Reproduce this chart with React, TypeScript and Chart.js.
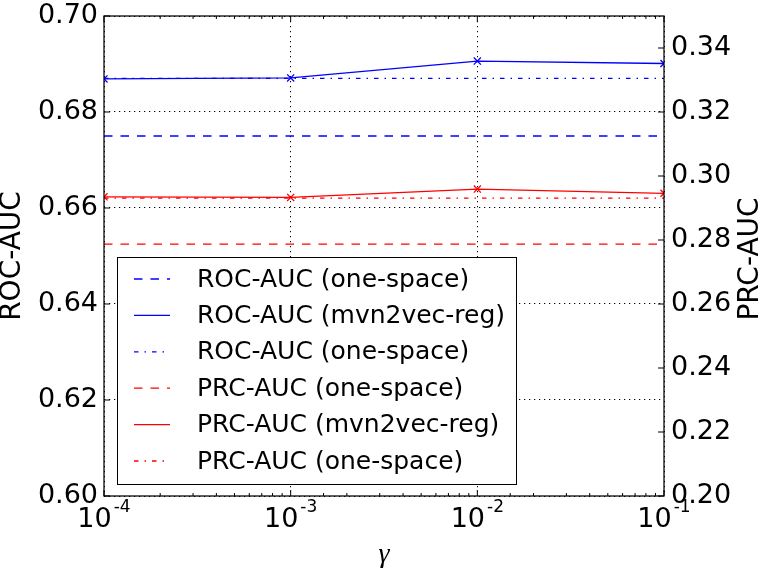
import React, { useEffect, useRef } from 'react';
import { Chart, registerables } from 'chart.js';

Chart.register(...registerables);

// ---- data ----
const gammas = [1e-4, 1e-3, 1e-2, 1e-1];
const gammaExponents = ['-4', '-3', '-2', '-1'];

const rocOneSpaceDashed = [0.675, 0.675, 0.675, 0.675];
const rocMvn2vecReg = [0.6869, 0.6871, 0.6906, 0.6901];
const rocOneSpaceDashDot = [0.687, 0.687, 0.687, 0.687];
const prcOneSpaceDashed = [0.2787, 0.2787, 0.2787, 0.2787];
const prcMvn2vecReg = [0.2935, 0.2933, 0.2959, 0.2946];
const prcOneSpaceDashDot = [0.2931, 0.2931, 0.2931, 0.2931];

const seriesLabels = [
  'ROC-AUC (one-space)',
  'ROC-AUC (mvn2vec-reg)',
  'ROC-AUC (one-space)',
  'PRC-AUC (one-space)',
  'PRC-AUC (mvn2vec-reg)',
  'PRC-AUC (one-space)',
];

const rocTicks = [0.6, 0.62, 0.64, 0.66, 0.68, 0.7];
const rocTickLabels = ['0.60', '0.62', '0.64', '0.66', '0.68', '0.70'];
const prcTicks = [0.2, 0.22, 0.24, 0.26, 0.28, 0.3, 0.32, 0.34];
const prcTickLabels = ['0.20', '0.22', '0.24', '0.26', '0.28', '0.30', '0.32', '0.34'];

const leftTitle = 'ROC-AUC';
const rightTitle = 'PRC-AUC';
const xTitle = 'γ';

// ---- styles ----
const SANS = '"DejaVu Sans", sans-serif';
const DASHED = [8.5, 8];
const DASHDOT = [4.5, 6, 1.5, 6];
const DOTTED = [1.25, 3.75];
const BLUE = '#0000ff';
const RED = '#ff0000';

const isMajor = (v: number) => {
  const l = Math.log10(v);
  return Math.abs(l - Math.round(l)) < 1e-6;
};

const pts = (arr: number[]) => gammas.map((g, i) => ({ x: g, y: arr[i] }));

const overlayPlugin = {
  id: 'overlay',
  afterDraw(chart: any) {
    const { ctx, chartArea: ca, scales } = chart;
    const xs = scales.x;
    const yl = scales.yRoc;
    const yr = scales.yPrc;
    ctx.save();

    // legend
    const bx = ca.left + 13;
    const by = ca.top + 241;
    const bw = 399;
    const bh = 227;
    ctx.fillStyle = '#fff';
    ctx.fillRect(bx, by, bw, bh);
    ctx.setLineDash([]);
    ctx.strokeStyle = '#000';
    ctx.lineWidth = 1;
    ctx.strokeRect(bx + 0.5, by + 0.5, bw, bh);
    chart.data.datasets.forEach((ds: any, i: number) => {
      const ry = by + 22 + i * 36.4;
      ctx.save();
      ctx.strokeStyle = ds.borderColor;
      ctx.lineWidth = ds.borderWidth;
      ctx.setLineDash(ds.borderDash || []);
      ctx.beginPath();
      ctx.moveTo(bx + 17, ry);
      ctx.lineTo(bx + 53, ry);
      ctx.stroke();
      ctx.restore();
      ctx.fillStyle = '#000';
      ctx.font = `25px ${SANS}`;
      ctx.textAlign = 'left';
      ctx.textBaseline = 'middle';
      ctx.fillText(ds.label, bx + 80, ry + 1);
    });

    // tick marks (inward)
    ctx.setLineDash([]);
    ctx.strokeStyle = '#000';
    ctx.lineWidth = 1;
    ctx.beginPath();
    xs.ticks.forEach((t: any) => {
      const px = xs.getPixelForValue(t.value);
      const len = isMajor(t.value) ? 6 : 3;
      ctx.moveTo(px, ca.bottom);
      ctx.lineTo(px, ca.bottom - len);
      ctx.moveTo(px, ca.top);
      ctx.lineTo(px, ca.top + len);
    });
    rocTicks.forEach((v) => {
      const py = yl.getPixelForValue(v);
      ctx.moveTo(ca.left, py);
      ctx.lineTo(ca.left + 6, py);
    });
    prcTicks.forEach((v) => {
      const py = yr.getPixelForValue(v);
      ctx.moveTo(ca.right, py);
      ctx.lineTo(ca.right - 6, py);
    });
    ctx.stroke();

    // frame
    ctx.lineWidth = 1.25;
    ctx.strokeRect(ca.left, ca.top, ca.right - ca.left, ca.bottom - ca.top);

    // x tick labels 10^n
    ctx.fillStyle = '#000';
    ctx.textAlign = 'left';
    ctx.textBaseline = 'alphabetic';
    gammas.forEach((g, i) => {
      const px = xs.getPixelForValue(g);
      ctx.font = `27px ${SANS}`;
      const w1 = ctx.measureText('10').width;
      ctx.font = `17px ${SANS}`;
      const w2 = ctx.measureText(gammaExponents[i]).width;
      const gap = 2;
      const start = px - (w1 + gap + w2) / 2;
      ctx.font = `27px ${SANS}`;
      ctx.fillText('10', start, ca.bottom + 31);
      ctx.font = `17px ${SANS}`;
      ctx.fillText(gammaExponents[i], start + w1 + gap, ca.bottom + 16);
    });

    // axis titles
    const cy = (ca.top + ca.bottom) / 2;
    ctx.font = `28px ${SANS}`;
    ctx.textAlign = 'center';
    ctx.textBaseline = 'middle';
    ctx.save();
    ctx.translate(13, cy);
    ctx.rotate(-Math.PI / 2);
    ctx.fillText(leftTitle, 0, 0);
    ctx.restore();
    ctx.save();
    ctx.translate(751, cy + 3);
    ctx.rotate(-Math.PI / 2);
    ctx.fillText(rightTitle, 0, 0);
    ctx.restore();

    ctx.font = `italic 28px "Liberation Serif", serif`;
    ctx.textBaseline = 'alphabetic';
    ctx.fillText(xTitle, (ca.left + ca.right) / 2, ca.bottom + 66);

    ctx.restore();
  },
};

export default function App() {
  const ref = useRef<HTMLCanvasElement | null>(null);

  useEffect(() => {
    if (!ref.current) return;
    const chart = new Chart(ref.current, {
      type: 'line',
      data: {
        datasets: [
          {
            label: seriesLabels[0],
            data: pts(rocOneSpaceDashed),
            yAxisID: 'yRoc',
            borderColor: BLUE,
            borderWidth: 1.3,
            borderDash: DASHED,
            pointRadius: 0,
          },
          {
            label: seriesLabels[1],
            data: pts(rocMvn2vecReg),
            yAxisID: 'yRoc',
            borderColor: BLUE,
            borderWidth: 1.3,
            pointStyle: 'crossRot',
            pointRadius: 5,
            pointBorderWidth: 1.3,
            pointBorderColor: BLUE,
          },
          {
            label: seriesLabels[2],
            data: pts(rocOneSpaceDashDot),
            yAxisID: 'yRoc',
            borderColor: BLUE,
            borderWidth: 1.3,
            borderDash: DASHDOT,
            pointRadius: 0,
          },
          {
            label: seriesLabels[3],
            data: pts(prcOneSpaceDashed),
            yAxisID: 'yPrc',
            borderColor: RED,
            borderWidth: 1.3,
            borderDash: DASHED,
            pointRadius: 0,
          },
          {
            label: seriesLabels[4],
            data: pts(prcMvn2vecReg),
            yAxisID: 'yPrc',
            borderColor: RED,
            borderWidth: 1.3,
            pointStyle: 'crossRot',
            pointRadius: 5,
            pointBorderWidth: 1.3,
            pointBorderColor: RED,
          },
          {
            label: seriesLabels[5],
            data: pts(prcOneSpaceDashDot),
            yAxisID: 'yPrc',
            borderColor: RED,
            borderWidth: 1.3,
            borderDash: DASHDOT,
            pointRadius: 0,
          },
        ],
      },
      options: {
        animation: false,
        responsive: false,
        devicePixelRatio: 1,
        layout: { padding: { top: 16, left: 0, right: 0, bottom: 0 } },
        plugins: { legend: { display: false }, tooltip: { enabled: false } },
        elements: { line: { tension: 0, fill: false } },
        scales: {
          x: {
            type: 'logarithmic',
            position: 'bottom',
            min: 1e-4,
            max: 1e-1,
            ticks: { display: false, autoSkip: false },
            grid: {
              drawTicks: false,
              lineWidth: 1,
              color: (c: any) =>
                c.tick && isMajor(c.tick.value) ? '#000' : 'rgba(0,0,0,0)',
            },
            border: { display: false, dash: DOTTED },
            afterFit: (s: any) => {
              s.height = 75;
              s.paddingLeft = 0;
              s.paddingRight = 0;
            },
          },
          yRoc: {
            type: 'linear',
            position: 'left',
            min: 0.6,
            max: 0.7,
            afterBuildTicks: (s: any) => {
              s.ticks = rocTicks.map((v) => ({ value: v }));
            },
            ticks: {
              callback: (_v: any, i: number) => rocTickLabels[i],
              font: { family: SANS, size: 27, lineHeight: 1 },
              color: '#000',
              padding: 6,
            },
            grid: { drawTicks: false, color: '#000', lineWidth: 1 },
            border: { display: false, dash: DOTTED },
            afterFit: (s: any) => {
              s.width = 104;
              s.paddingTop = 0;
              s.paddingBottom = 0;
            },
          },
          yPrc: {
            type: 'linear',
            position: 'right',
            min: 0.2,
            max: 0.35,
            afterBuildTicks: (s: any) => {
              s.ticks = prcTicks.map((v) => ({ value: v }));
            },
            ticks: {
              callback: (_v: any, i: number) => prcTickLabels[i],
              font: { family: SANS, size: 27, lineHeight: 1 },
              color: '#000',
              padding: 7,
            },
            grid: { display: false, drawTicks: false },
            border: { display: false },
            afterFit: (s: any) => {
              s.width = 100;
              s.paddingTop = 0;
              s.paddingBottom = 0;
            },
          },
        },
      },
      plugins: [overlayPlugin],
    } as any);
    return () => chart.destroy();
  }, []);

  return (
    <div style={{ position: 'fixed', left: 0, top: 0, width: 764, height: 571, background: '#fff' }}>
      <canvas ref={ref} width={764} height={571} style={{ display: 'block' }} />
    </div>
  );
}
